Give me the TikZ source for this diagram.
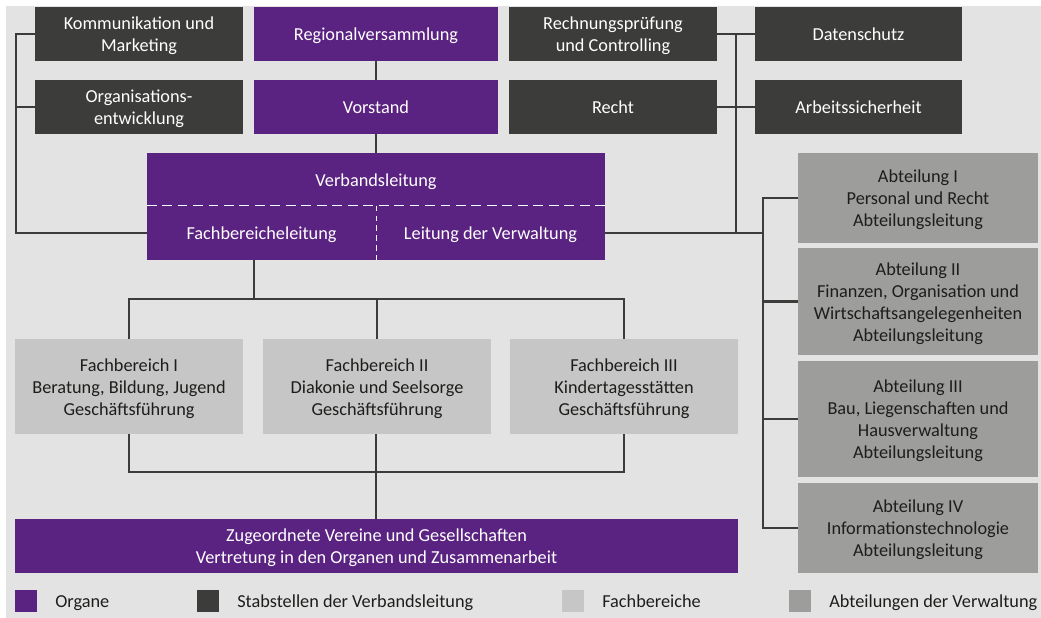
\documentclass[tikz,border=0pt]{standalone}
\usepackage{fontspec}
\setmainfont{Carlito}
\usepackage{xcolor}
\usepackage{tikz}
\usetikzlibrary{positioning,calc}
\definecolor{lila}{HTML}{5B2381}
\definecolor{dunkel}{HTML}{3C3C3B}
\definecolor{hell}{HTML}{C6C6C6}
\definecolor{mittel}{HTML}{9D9D9C}
\definecolor{hinter}{HTML}{E3E3E3}
\definecolor{schrift}{HTML}{1D1D1B}
\newcommand{\zs}{\rule[-3pt]{0pt}{15.5pt}}
\tikzstyle{kasten} = [rectangle, inner sep=0pt, align=center, font=\fontsize{13}{15.6}\selectfont]
\tikzstyle{organ} = [kasten, fill=lila, text=white]
\tikzstyle{stab} = [kasten, fill=dunkel, text=white]
\tikzstyle{fach} = [kasten, fill=hell, text=schrift]
\tikzstyle{abt} = [kasten, fill=mittel, text=schrift]
\tikzstyle{linie} = [draw=dunkel, line width=1.5pt]
\tikzstyle{legende} = [kasten, anchor=west, text=schrift]

\begin{document}
\begin{tikzpicture}[x=0.025cm, y=-0.025cm]
        % Hintergrund
        \useasboundingbox (0,0) rectangle (1041,618);
        \fill[hinter] (6,6) rectangle (1041,618);
        % obere Reihe
        \node[stab, minimum width=5.2cm, minimum height=1.35cm] (komm) at (139,34) {\zs Kommunikation und\\Marketing\zs};
        \node[organ, minimum width=6.1cm, minimum height=1.35cm] (regio) at (376,34) {\zs Regionalversammlung};
        \node[stab, minimum width=5.2cm, minimum height=1.35cm] (rech) at (613,34) {\zs Rechnungsprüfung\\und Controlling\zs};
        \node[stab, minimum width=5.175cm, minimum height=1.35cm] (daten) at (858.5,34) {\zs Datenschutz};
        \node[stab, minimum width=5.2cm, minimum height=1.35cm] (org) at (139,107) {\zs Organisations-\\entwicklung\zs};
        \node[organ, minimum width=6.1cm, minimum height=1.35cm] (vorst) at (376,107) {\zs Vorstand};
        \node[stab, minimum width=5.2cm, minimum height=1.35cm] (recht) at (613,107) {\zs Recht};
        \node[stab, minimum width=5.175cm, minimum height=1.35cm] (arbeit) at (858.5,107) {\zs Arbeitssicherheit};
        % Verbandsleitung
        \node[organ, minimum width=11.45cm, minimum height=2.675cm] (verband) at (376,206.5) {};
        \node[kasten, text=white] (vl) at (376,180) {\zs Verbandsleitung};
        \node[kasten, text=white, minimum width=5.725cm, minimum height=1.35cm] (fbl) at (261.5,233) {\zs Fachbereicheleitung};
        \node[kasten, text=white, minimum width=5.725cm, minimum height=1.35cm] (ldv) at (490.5,233) {\zs Leitung der Verwaltung};
        \draw[white, line width=0.8pt, dash pattern=on 7pt off 4pt] (verband.west |- fbl.north) -- (verband.east |- fbl.north);
        \draw[white, line width=0.8pt, dash pattern=on 4pt off 3pt] (fbl.north east) -- (fbl.south east);
        % Fachbereiche
        \node[fach, minimum width=5.7cm, minimum height=2.375cm] (fb1) at (129,386.5) {\zs Fachbereich I\\Beratung, Bildung, Jugend\\Geschäftsführung\zs};
        \node[fach, minimum width=5.7cm, minimum height=2.375cm] (fb2) at (377,386.5) {\zs Fachbereich II\\Diakonie und Seelsorge\\Geschäftsführung\zs};
        \node[fach, minimum width=5.7cm, minimum height=2.375cm] (fb3) at (624,386.5) {\zs Fachbereich III\\Kindertagesstätten\\Geschäftsführung\zs};
        \node[organ, minimum width=18.075cm, minimum height=1.35cm] (zug) at (376.5,546) {\zs Zugeordnete Vereine und Gesellschaften\\Vertretung in den Organen und Zusammenarbeit\zs};
        % Abteilungen
        \node[abt, minimum width=6cm, minimum height=2.25cm] (abt1) at (918,198) {\zs Abteilung I\\Personal und Recht\\Abteilungsleitung\zs};
        \node[abt, minimum width=6cm, minimum height=2.675cm] (abt2) at (918,301.5) {\zs Abteilung II\\Finanzen, Organisation und\\Wirtschaftsangelegenheiten\\Abteilungsleitung\zs};
        \node[abt, minimum width=6cm, minimum height=2.9cm] (abt3) at (918,419) {\zs Abteilung III\\Bau, Liegenschaften und\\Hausverwaltung\\Abteilungsleitung\zs};
        \node[abt, minimum width=6cm, minimum height=2.25cm] (abt4) at (918,528) {\zs Abteilung IV\\Informationstechnologie\\Abteilungsleitung\zs};
        % Linien
        \coordinate (lb) at (16,34);
        \coordinate (rb) at (736,34);
        \coordinate (ab) at (763,233);
        \coordinate (fs) at (254,299);
        \coordinate (zs) at (376,472);
        \draw[linie] (regio) -- (vorst);
        \draw[linie] (vorst) -- (verband);
        \draw[linie] (komm.west) -- (lb) |- (fbl.west);
        \draw[linie] (org.west) -- (org.west -| lb);
        \draw[linie] (rech.east) -- (daten.west);
        \draw[linie] (recht.east) -- (arbeit.west);
        \draw[linie] (rb) -- (rb |- ldv.east);
        \draw[linie] (ldv.east) -- (ab);
        \draw[linie] (abt1.west) -| (ab) |- (abt4.west);
        \draw[linie] (abt2.west) -- (abt2.west -| ab);
        \draw[linie] (abt3.west) -- (abt3.west -| ab);
        \draw[linie] (fs |- fbl.south) -- (fs);
        \draw[linie] (fb1.north) |- (fb3.north |- fs) -- (fb3.north);
        \draw[linie] (fb2.north) -- (fb2.north |- fs);
        \draw[linie] (fb1.south) |- (fb3.south |- zs) -- (fb3.south);
        \draw[linie] (zs |- fb2.south) -- (zs |- zug.north);
        % Legende
        \node[fill=lila, minimum size=0.55cm, inner sep=0pt] (l1) at (26,601) {};
        \node[legende] (t1) at (55,601) {\zs Organe};
        \node[fill=dunkel, minimum size=0.55cm, inner sep=0pt] (l2) at (208,601) {};
        \node[legende] (t2) at (237,601) {\zs Stabstellen der Verbandsleitung};
        \node[fill=hell, minimum size=0.55cm, inner sep=0pt] (l3) at (573,601) {};
        \node[legende] (t3) at (602,601) {\zs Fachbereiche};
        \node[fill=mittel, minimum size=0.55cm, inner sep=0pt] (l4) at (800,601) {};
        \node[legende] (t4) at (829,601) {\zs Abteilungen der Verwaltung};
    \end{tikzpicture}
\end{document}
